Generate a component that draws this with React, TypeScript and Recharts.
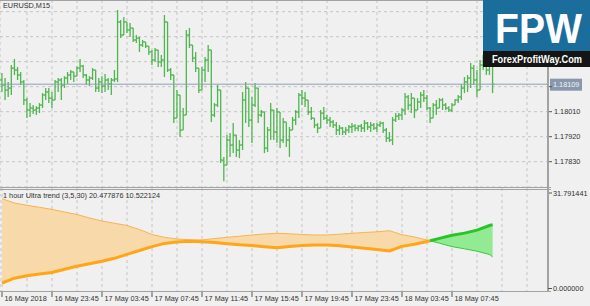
import React from "react";
import { ComposedChart, Bar, Line, Area, XAxis, YAxis, CartesianGrid, ReferenceLine } from "recharts";

// EURUSD M15 bars, 16 May 19:45 -> 18 May 09:00
const opens = [
  1.18124, 1.18106, 1.18088, 1.18095, 1.18167, 1.18160, 1.18142, 1.18117, 1.18052, 1.18016,
  1.18023, 1.18016, 1.18023, 1.18034, 1.18070, 1.18081, 1.18059, 1.18052, 1.18117, 1.18124,
  1.18106, 1.18131, 1.18142, 1.18153, 1.18138, 1.18167, 1.18174, 1.18142, 1.18124, 1.18131,
  1.18160, 1.18095, 1.18117, 1.18102, 1.18124, 1.18110, 1.18124, 1.18128, 1.18333, 1.18286,
  1.18333, 1.18304, 1.18311, 1.18268, 1.18275, 1.18250, 1.18261, 1.18246, 1.18225, 1.18196,
  1.18232, 1.18189, 1.18196, 1.18333, 1.18160, 1.18142, 1.17987, 1.18070, 1.17944, 1.17998,
  1.18286, 1.18250, 1.18203, 1.18167, 1.18088, 1.18160, 1.18196, 1.18232, 1.17998, 1.18034,
  1.18088, 1.17836, 1.17818, 1.17908, 1.17890, 1.17926, 1.17872, 1.17890, 1.18052, 1.18095,
  1.17980, 1.18034, 1.18095, 1.17998, 1.18009, 1.17879, 1.17944, 1.18016, 1.17937, 1.18009,
  1.17908, 1.17973, 1.17908, 1.17944, 1.17980, 1.18009, 1.18070, 1.18059, 1.18052, 1.18009,
  1.17987, 1.17962, 1.17951, 1.18005, 1.17987, 1.17980, 1.17973, 1.17962, 1.17944, 1.17951,
  1.17937, 1.17944, 1.17955, 1.17958, 1.17951, 1.17958, 1.17951, 1.17969, 1.17955, 1.17962,
  1.17951, 1.17962, 1.17969, 1.17944, 1.17915, 1.17908, 1.17980, 1.17994, 1.17998, 1.18016,
  1.18063, 1.18034, 1.18059, 1.18016, 1.18045, 1.18070, 1.18059, 1.18023, 1.17987, 1.18034,
  1.18023, 1.18052, 1.18034, 1.18023, 1.18016, 1.18034, 1.18052, 1.18063, 1.18095, 1.18117,
  1.18131, 1.18167, 1.18124, 1.18088, 1.18178, 1.18196, 1.18160, 1.18178,
];
const highs = [
  1.18149, 1.18131, 1.18117, 1.18178, 1.18200, 1.18171, 1.18153, 1.18124, 1.18059, 1.18041,
  1.18034, 1.18030, 1.18041, 1.18077, 1.18095, 1.18095, 1.18081, 1.18124, 1.18131, 1.18131,
  1.18138, 1.18153, 1.18160, 1.18153, 1.18174, 1.18200, 1.18178, 1.18146, 1.18138, 1.18167,
  1.18160, 1.18131, 1.18138, 1.18146, 1.18131, 1.18131, 1.18160, 1.18376, 1.18340, 1.18351,
  1.18333, 1.18329, 1.18311, 1.18286, 1.18279, 1.18268, 1.18261, 1.18246, 1.18232, 1.18239,
  1.18232, 1.18214, 1.18358, 1.18333, 1.18167, 1.18142, 1.18088, 1.18070, 1.18023, 1.18304,
  1.18311, 1.18250, 1.18225, 1.18167, 1.18171, 1.18207, 1.18250, 1.18232, 1.18041, 1.18106,
  1.18088, 1.17847, 1.17926, 1.17933, 1.17969, 1.17926, 1.17908, 1.18081, 1.18117, 1.18095,
  1.18063, 1.18113, 1.18095, 1.18016, 1.18009, 1.17955, 1.18041, 1.18016, 1.18023, 1.18009,
  1.17987, 1.17973, 1.17955, 1.17991, 1.18016, 1.18077, 1.18088, 1.18081, 1.18052, 1.18027,
  1.17987, 1.17969, 1.18016, 1.18027, 1.17998, 1.17991, 1.17980, 1.17973, 1.17962, 1.17955,
  1.17955, 1.17962, 1.17969, 1.17966, 1.17962, 1.17966, 1.17980, 1.17973, 1.17973, 1.17969,
  1.17969, 1.17976, 1.17973, 1.17951, 1.17937, 1.17991, 1.18005, 1.18005, 1.18023, 1.18077,
  1.18070, 1.18077, 1.18059, 1.18059, 1.18081, 1.18088, 1.18070, 1.18027, 1.18041, 1.18052,
  1.18059, 1.18059, 1.18041, 1.18030, 1.18041, 1.18056, 1.18070, 1.18109, 1.18135, 1.18142,
  1.18185, 1.18178, 1.18160, 1.18196, 1.18214, 1.18203, 1.18203, 1.18189,
];
const lows = [
  1.18081, 1.18052, 1.18063, 1.18070, 1.18142, 1.18124, 1.18106, 1.18034, 1.17987, 1.17991,
  1.18002, 1.17998, 1.18005, 1.18023, 1.18052, 1.18041, 1.18023, 1.18052, 1.18081, 1.18052,
  1.18095, 1.18110, 1.18124, 1.18117, 1.18138, 1.18153, 1.18131, 1.18106, 1.18102, 1.18124,
  1.18081, 1.18081, 1.18077, 1.18081, 1.18088, 1.18070, 1.18117, 1.18117, 1.18275, 1.18286,
  1.18293, 1.18279, 1.18261, 1.18257, 1.18225, 1.18243, 1.18239, 1.18214, 1.18178, 1.18189,
  1.18171, 1.18171, 1.18135, 1.18153, 1.18124, 1.17969, 1.17987, 1.17919, 1.17944, 1.17998,
  1.18239, 1.18189, 1.18153, 1.18077, 1.18088, 1.18117, 1.18153, 1.17973, 1.17991, 1.18027,
  1.17825, 1.17760, 1.17818, 1.17847, 1.17861, 1.17847, 1.17843, 1.17872, 1.17969, 1.17955,
  1.17897, 1.18027, 1.17969, 1.17991, 1.17861, 1.17865, 1.17908, 1.17908, 1.17897, 1.17879,
  1.17897, 1.17883, 1.17847, 1.17944, 1.17962, 1.17987, 1.18034, 1.18027, 1.17998, 1.17980,
  1.17951, 1.17933, 1.17951, 1.17980, 1.17966, 1.17955, 1.17951, 1.17926, 1.17926, 1.17926,
  1.17926, 1.17933, 1.17933, 1.17940, 1.17940, 1.17937, 1.17937, 1.17944, 1.17937, 1.17944,
  1.17937, 1.17955, 1.17933, 1.17901, 1.17901, 1.17890, 1.17973, 1.17980, 1.17980, 1.17998,
  1.18016, 1.18005, 1.17987, 1.18016, 1.18023, 1.18045, 1.18016, 1.17969, 1.17987, 1.17998,
  1.18023, 1.18016, 1.18016, 1.18009, 1.18009, 1.18034, 1.18041, 1.18052, 1.18077, 1.18081,
  1.18095, 1.18106, 1.18063, 1.18088, 1.18160, 1.18142, 1.18142, 1.18077,
];
const closes = [
  1.18106, 1.18088, 1.18095, 1.18167, 1.18160, 1.18142, 1.18117, 1.18052, 1.18016, 1.18023,
  1.18016, 1.18023, 1.18034, 1.18070, 1.18081, 1.18059, 1.18052, 1.18117, 1.18124, 1.18106,
  1.18131, 1.18142, 1.18153, 1.18138, 1.18167, 1.18174, 1.18142, 1.18124, 1.18131, 1.18160,
  1.18095, 1.18117, 1.18102, 1.18124, 1.18110, 1.18124, 1.18128, 1.18333, 1.18286, 1.18333,
  1.18304, 1.18311, 1.18268, 1.18275, 1.18250, 1.18261, 1.18246, 1.18225, 1.18196, 1.18232,
  1.18189, 1.18196, 1.18333, 1.18160, 1.18142, 1.17987, 1.18070, 1.17944, 1.17998, 1.18286,
  1.18250, 1.18203, 1.18167, 1.18088, 1.18160, 1.18196, 1.18232, 1.17998, 1.18034, 1.18088,
  1.17836, 1.17818, 1.17908, 1.17890, 1.17926, 1.17872, 1.17890, 1.18052, 1.18095, 1.17980,
  1.18034, 1.18095, 1.17998, 1.18009, 1.17879, 1.17944, 1.18016, 1.17937, 1.18009, 1.17908,
  1.17973, 1.17908, 1.17944, 1.17980, 1.18009, 1.18070, 1.18059, 1.18052, 1.18009, 1.17987,
  1.17962, 1.17951, 1.18005, 1.17987, 1.17980, 1.17973, 1.17962, 1.17944, 1.17951, 1.17937,
  1.17944, 1.17955, 1.17958, 1.17951, 1.17958, 1.17951, 1.17969, 1.17955, 1.17962, 1.17951,
  1.17962, 1.17969, 1.17944, 1.17915, 1.17908, 1.17980, 1.17994, 1.17998, 1.18016, 1.18063,
  1.18034, 1.18059, 1.18016, 1.18045, 1.18070, 1.18059, 1.18023, 1.17987, 1.18034, 1.18023,
  1.18052, 1.18034, 1.18023, 1.18016, 1.18034, 1.18052, 1.18063, 1.18095, 1.18117, 1.18131,
  1.18167, 1.18124, 1.18088, 1.18178, 1.18196, 1.18160, 1.18178, 1.18109,
];

const priceTicks = [1.1783, 1.1792, 1.1801, 1.181, 1.1819, 1.1828, 1.1837];
const lastPrice = 1.18109;

const timeLabels = [
  "16 May 2018", "16 May 23:45", "17 May 03:45", "17 May 07:45", "17 May 11:45",
  "17 May 15:45", "17 May 19:45", "17 May 23:45", "18 May 03:45", "18 May 07:45",
];

// 1 hour Ultra trend, sampled on the H1 closes (bar index on the M15 chart)
const hourBars = [0, 4, 8, 12, 16, 20, 24, 28, 32, 36, 40, 44, 48, 52, 56, 60, 64, 68, 72, 76, 80, 84, 88, 92, 96, 100, 104, 108, 112, 116, 120, 124, 128, 132, 136, 137, 140, 144, 148, 152, 156, 157];
const upperLine = [28.49, 27.16, 26.45, 25.83, 25.19, 24.38, 23.61, 22.53, 21.6, 20.9, 20.22, 18.98, 17.44, 16.57, 16.05, 15.83, 15.77, 16.2, 16.57, 16.91, 17.28, 17.59, 17.81, 17.65, 17.44, 17.28, 17.28, 17.53, 17.81, 18.06, 18.27, 18.61, 17.38, 16.67, 15.74, 15.52, 16.23, 17.19, 17.87, 18.8, 20.22, 20.477876];
const lowerLine = [2.47, 3.95, 4.69, 5.22, 5.74, 6.73, 7.62, 8.4, 9.2, 10.09, 11.3, 12.5, 13.7, 14.69, 15.09, 15.37, 15.19, 14.94, 14.6, 14.26, 14.01, 13.67, 13.36, 13.77, 14.04, 14.2, 14.2, 13.95, 13.58, 13.18, 12.81, 12.38, 13.77, 14.44, 15.28, 15.48, 14.75, 13.7, 13.02, 12.28, 11.27, 10.522124];
const greenFrom = 137;
const indMax = 31.791441;
const indMin = 0;

const FONT = "'Liberation Sans', Arial, sans-serif";
const TXT = "#303030";
const xDomain = [-0.64, 174.72];
const gridTicks = Array.from({ length: 22 }, (_, k) => k * 8);

const bars = opens.map((o, i) => ({
  i,
  open: o,
  high: highs[i],
  low: lows[i],
  close: closes[i],
  range: [lows[i], highs[i]],
}));

const ind = hourBars.map((i, j) => {
  const up = upperLine[j];
  const dn = lowerLine[j];
  const o = i <= greenFrom;
  const g = i >= greenFrom;
  return {
    i,
    oBand: o ? [dn, up] : null,
    oUp: o ? up : null,
    oDn: o ? dn : null,
    gBand: g ? [dn, up] : null,
    gUp: g ? up : null,
    gDn: g ? dn : null,
  };
});

function OhlcShape(props: any) {
  const { x, y, width, height, payload } = props;
  if (!payload) return null;
  const top = Math.min(y, y + height);
  const h = Math.abs(height);
  const cx = x + width / 2;
  const span = payload.high - payload.low || 1;
  const py = (v: number) => top + ((payload.high - v) / span) * h;
  return (
    <g stroke="#4fb54f" strokeWidth={1.3}>
      <line x1={cx} x2={cx} y1={top} y2={top + h} />
      <line x1={cx - 1.7} x2={cx} y1={py(payload.open)} y2={py(payload.open)} />
      <line x1={cx} x2={cx + 1.7} y1={py(payload.close)} y2={py(payload.close)} />
    </g>
  );
}

// labels above 1.18100 sit under the logo / price box in the original
function PriceTick(props: any) {
  const { x, y, payload } = props;
  if (payload.value >= 1.181) return <g />;
  return (
    <text x={x} y={y + 2.6} fontSize={7.3} fill={TXT} fontFamily={FONT}>
      {payload.value.toFixed(5)}
    </text>
  );
}

function PriceBox(props: any) {
  const { viewBox } = props;
  const x = viewBox.x + viewBox.width + 2;
  const y = viewBox.y;
  return (
    <g>
      <rect x={x} y={y - 5.5} width={32} height={12} fill="#8798ae" />
      <text x={x + 3} y={y + 3} fontSize={7.3} fill="#f4f4f4" fontFamily={FONT}>
        {lastPrice.toFixed(5)}
      </text>
    </g>
  );
}

function TimeTick(props: any) {
  const { x, y, payload } = props;
  const k = payload.value / 16;
  if (!Number.isInteger(k) || !timeLabels[k]) return <g />;
  return (
    <g>
      <line x1={x} x2={x} y1={y + 1} y2={y + 6} stroke="#555" />
      <text x={x + 2.5} y={y + 10} fontSize={7.3} fill={TXT} fontFamily={FONT}>
        {timeLabels[k]}
      </text>
    </g>
  );
}

function IndLabel(props: any) {
  const { viewBox, value, shift } = props;
  const x = viewBox.x + viewBox.width;
  const ty = viewBox.y + shift;
  return (
    <g>
      <line x1={x} x2={x + 4} y1={ty} y2={ty} stroke="#555" />
      <text x={x + 5} y={ty + 2.6} fontSize={7.3} fill={TXT} fontFamily={FONT}>
        {value.toFixed(6)}
      </text>
    </g>
  );
}

function PriceChart() {
  return (
    <ComposedChart width={590} height={187} data={bars} margin={{ top: 0, right: 0, bottom: 0, left: 0 }}>
      <CartesianGrid stroke="#c4c4c4" strokeDasharray="3 3" />
      <XAxis dataKey="i" type="number" domain={xDomain} ticks={gridTicks} allowDataOverflow hide />
      <YAxis
        orientation="right"
        width={42}
        domain={[1.17739, 1.18412]}
        ticks={priceTicks}
        allowDataOverflow
        axisLine={false}
        tickLine={{ stroke: "#555" }}
        tickSize={4}
        tickMargin={2}
        tick={<PriceTick />}
        interval={0}
      />
      <ReferenceLine y={lastPrice} stroke="#8e9fb5" strokeWidth={1} label={<PriceBox />} />
      <Bar dataKey="range" barSize={3} shape={<OhlcShape />} isAnimationActive={false} />
    </ComposedChart>
  );
}

function TrendChart() {
  return (
    <ComposedChart width={590} height={118} data={ind} margin={{ top: 0, right: 0, bottom: 0, left: 0 }}>
      <CartesianGrid stroke="#c4c4c4" strokeDasharray="3 3" horizontal={false} />
      <XAxis
        dataKey="i"
        type="number"
        domain={xDomain}
        ticks={gridTicks}
        allowDataOverflow
        height={15}
        axisLine={false}
        tickLine={false}
        tickSize={0}
        tickMargin={0}
        tick={<TimeTick />}
        interval={0}
      />
      <YAxis orientation="right" width={42} domain={[indMin, indMax]} allowDataOverflow axisLine={false} tickLine={false} tick={false} />
      <Area dataKey="oBand" type="linear" stroke="none" fill="#f8d9a9" fillOpacity={1} isAnimationActive={false} dot={false} activeDot={false} />
      <Area dataKey="gBand" type="linear" stroke="none" fill="#92ea92" fillOpacity={1} isAnimationActive={false} dot={false} activeDot={false} />
      <Line dataKey="oUp" type="linear" stroke="#f7b352" strokeWidth={1} dot={false} activeDot={false} isAnimationActive={false} />
      <Line dataKey="oDn" type="linear" stroke="#ffa516" strokeWidth={3} dot={false} activeDot={false} isAnimationActive={false} />
      <Line dataKey="gDn" type="linear" stroke="#3cc83c" strokeWidth={1} dot={false} activeDot={false} isAnimationActive={false} />
      <Line dataKey="gUp" type="linear" stroke="#28c428" strokeWidth={3} dot={false} activeDot={false} isAnimationActive={false} />
      <ReferenceLine y={indMax} stroke="none" ifOverflow="visible" label={<IndLabel value={indMax} shift={5} />} />
    </ComposedChart>
  );
}

const line = (s: any) => <div style={{ position: "absolute", background: "#a2a2a2", ...s }} />;

export default function App() {
  return (
    <div style={{ position: "absolute", left: 0, top: 0, width: 590, height: 306, background: "#f0f0f0", overflow: "hidden", fontFamily: FONT }}>
      <div style={{ position: "absolute", left: 0, top: 0 }}>
        <PriceChart />
      </div>
      <div style={{ position: "absolute", left: 0, top: 188 }}>
        <TrendChart />
      </div>
      {line({ left: 0, top: 0, width: 549, height: 1 })}
      {line({ left: 0, top: 187, width: 551, height: 1 })}
      {line({ left: 0, top: 189, width: 551, height: 1 })}
      {line({ left: 0, top: 290.5, width: 551, height: 1.5 })}
      {line({ left: 547, top: 0, width: 1.8, height: 292 })}
      {line({ left: 548, top: 288, width: 4, height: 1, background: "#555" })}
      <div style={{ position: "absolute", left: 553, top: 284.6, fontSize: 7.3, lineHeight: 1, color: TXT, whiteSpace: "nowrap" }}>
        {indMin.toFixed(6)}
      </div>
      <div style={{ position: "absolute", left: 3, top: 2, fontSize: 7.3, lineHeight: 1, color: TXT, whiteSpace: "nowrap" }}>
        EURUSD,M15
      </div>
      <div style={{ position: "absolute", left: 3, top: 192, fontSize: 7.3, lineHeight: 1, color: TXT, whiteSpace: "nowrap" }}>
        1 hour Ultra trend (3,5,30) {upperLine[upperLine.length - 1].toFixed(6)} {lowerLine[lowerLine.length - 1].toFixed(6)}
      </div>
      <svg style={{ position: "absolute", left: 483, top: 0 }} width={107} height={67}>
        <rect x={0} y={0} width={107} height={51} fill="#1b6d9b" />
        <rect x={0} y={51} width={107} height={16} fill="#151515" />
        <text x={12} y={43.3} fontSize={43} fontWeight={700} fill="#ffffff" textLength={87} lengthAdjust="spacingAndGlyphs" fontFamily={FONT}>
          FPW
        </text>
        <text x={50} y={26} fontSize={10} fontWeight={700} fill="#1b6d9b" textAnchor="middle" fontFamily={FONT}>
          $
        </text>
        <text
          x={9}
          y={50.6}
          fontSize={9.2}
          fontWeight={700}
          fill="#ffffff"
          textLength={90}
          lengthAdjust="spacingAndGlyphs"
          fontFamily={FONT}
          transform="scale(1 1.25)"
        >
          ForexProfitWay.Com
        </text>
      </svg>
    </div>
  );
}
